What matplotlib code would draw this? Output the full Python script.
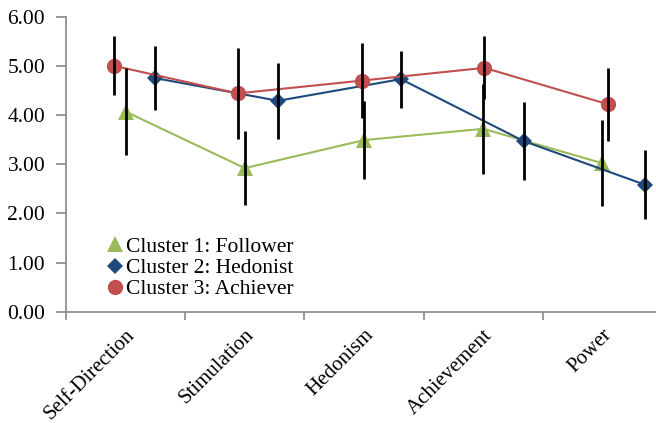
import matplotlib
matplotlib.use("Agg")
import matplotlib.pyplot as plt
import numpy as np

categories = ["Self-Direction", "Stimulation", "Hedonism", "Achievement", "Power"]
series_names = ["Cluster 1: Follower", "Cluster 2: Hedonist", "Cluster 3: Achiever"]

c1_mean = [4.07, 2.92, 3.49, 3.72, 3.02]
c1_err = [0.88, 0.75, 0.80, 0.92, 0.88]
c2_mean = [4.75, 4.29, 4.73, 3.47, 2.58]
c2_err = [0.65, 0.77, 0.58, 0.80, 0.70]
c3_mean = [5.00, 4.44, 4.70, 4.96, 4.22]
c3_err = [0.60, 0.92, 0.76, 0.64, 0.74]

# horizontal placement of each series within its category (category units)
c1_shift = [0.0, 0.0, 0.0, 0.0, 0.0]
c2_shift = [0.25, 0.28, 0.31, 0.34, 0.36]
c3_shift = [-0.095, -0.06, -0.02, 0.01, 0.045]

plt.rcParams['font.family'] = ['Liberation Serif', 'DejaVu Serif']

fig = plt.figure(figsize=(6.56, 4.23), dpi=100)
ax = fig.add_axes([66/656, (423-311.7)/423, 596/656, 295/423])

idx = np.arange(len(categories))
specs = [
    (c1_mean, c1_err, c1_shift, '#9BBB59', '^', 11, 1),
    (c2_mean, c2_err, c2_shift, '#1F497D', 'D', 8.5, 2),
    (c3_mean, c3_err, c3_shift, '#C0504D', 'o', 11, 3),
]
handles = []
for (m, e, s, col, mk, ms, z), name in zip(specs, series_names):
    x = idx + np.array(s)
    h, = ax.plot(x, m, color=col, marker=mk, markersize=ms, linewidth=1.5,
                 markeredgewidth=0, zorder=z, label=name)
    handles.append(h)
for (m, e, s, col, mk, ms, z) in specs:
    x = idx + np.array(s)
    ax.errorbar(x, m, yerr=e, fmt='none', ecolor='black', elinewidth=2,
                capsize=0, zorder=5)

ax.set_xlim(-0.5, 4.5)
ax.set_ylim(0, 6)
ax.set_yticks(np.arange(0, 6.01, 1))
ax.set_yticklabels([f"{v:.2f}" for v in np.arange(0, 6.01, 1)], fontsize=15.5)
ax.set_xticks(idx)
ax.set_xticklabels(categories, rotation=45, ha='right', rotation_mode='anchor',
                   fontsize=15)
ax.set_xticks(np.arange(-0.5, 4.6, 1), minor=True)
ax.tick_params(axis='x', which='major', length=0, pad=10)
ax.tick_params(axis='x', which='minor', length=6, color='#888888', width=1.2, direction='out')
ax.tick_params(axis='y', length=7, color='#888888', width=1.2, direction='out', pad=8)

for sp in ['top', 'right']:
    ax.spines[sp].set_visible(False)
for sp in ['left', 'bottom']:
    ax.spines[sp].set_color('#888888')
    ax.spines[sp].set_linewidth(1.2)

leg = ax.legend(handles=handles, loc='lower left', bbox_to_anchor=(0.057, 0.013),
                frameon=False, fontsize=15.5, handlelength=0.6, handletextpad=0.2,
                labelspacing=0.05, borderaxespad=0)
for h in leg.legend_handles:
    h.set_linestyle('none')

fig.savefig("out.png", dpi=100)
